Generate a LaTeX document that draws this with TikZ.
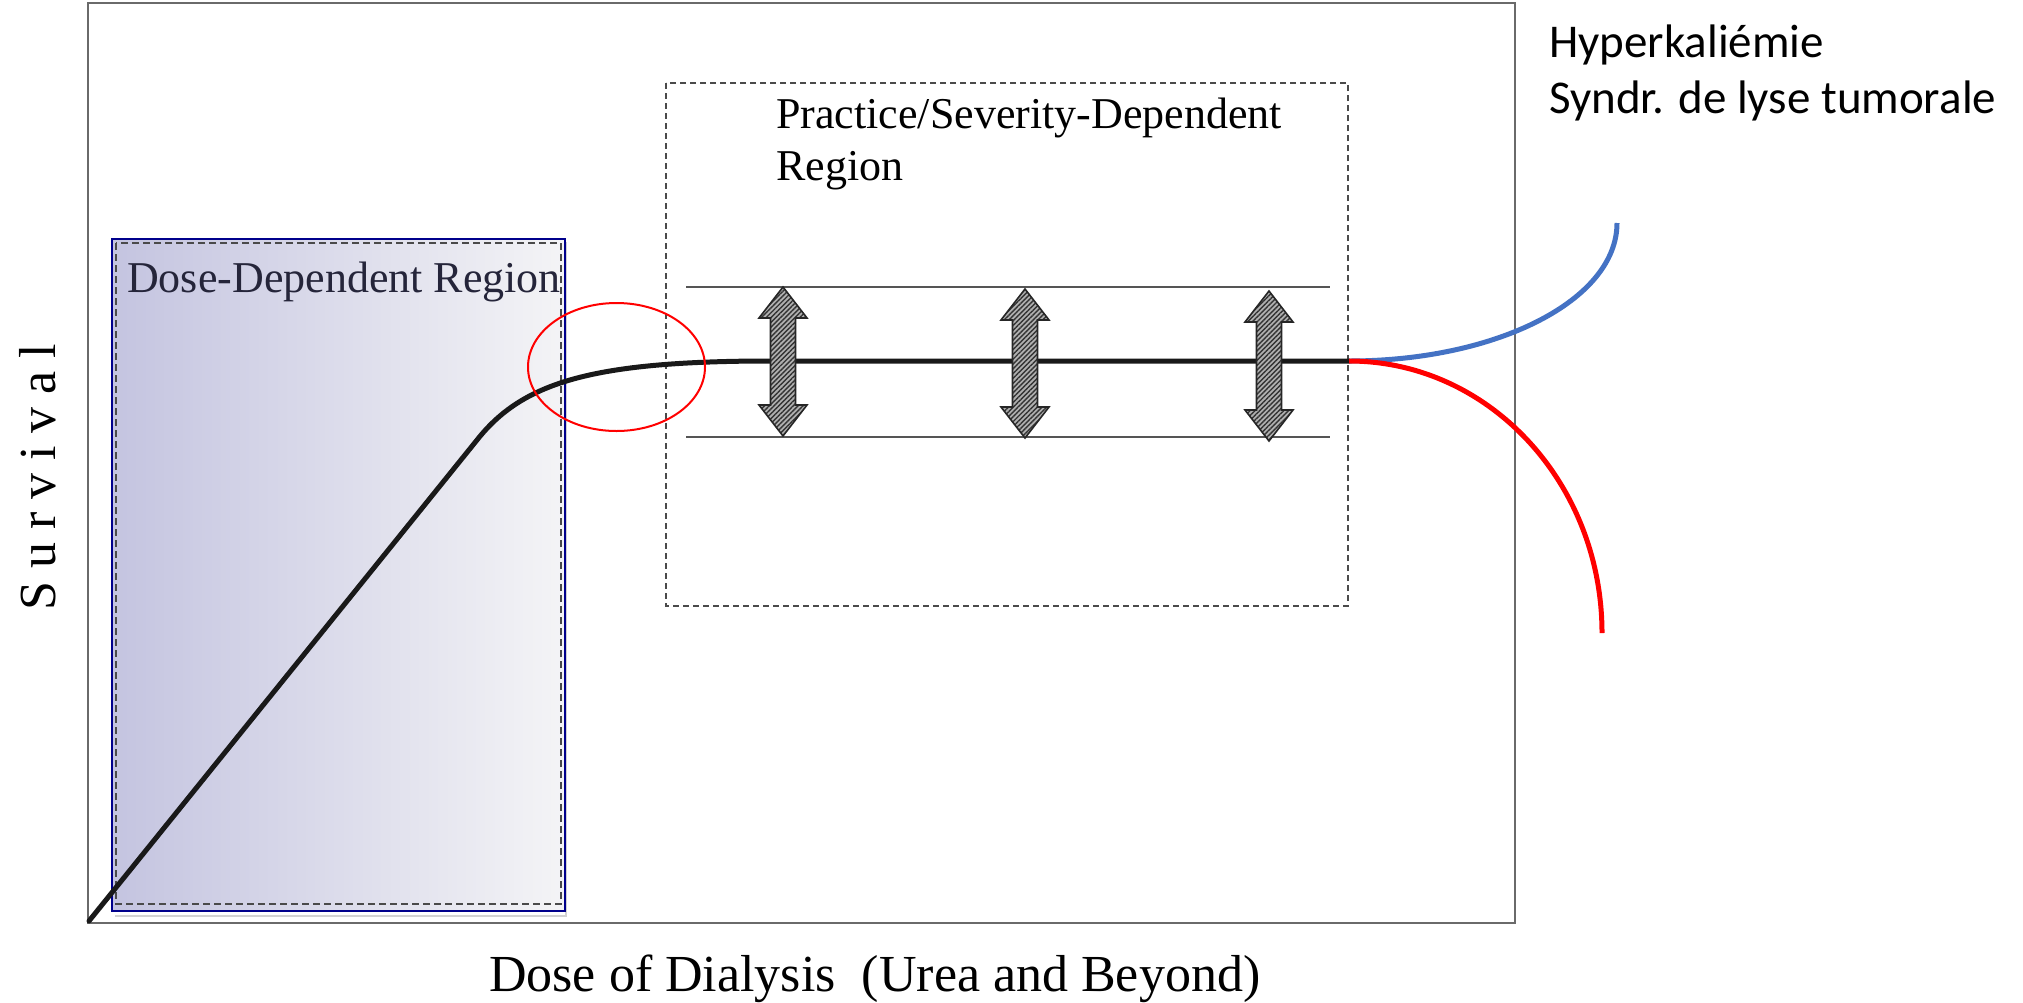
\documentclass[tikz,border=0pt]{standalone}
\usepackage{fontspec}
\setmainfont{Liberation Serif}
\newfontfamily\calibrifont{Carlito}
\usetikzlibrary{patterns.meta}
\definecolor{framegray}{HTML}{6A6A6A}
\definecolor{dashgray}{HTML}{4A4A4A}
\definecolor{navybox}{HTML}{00008C}
\definecolor{shadeleft}{RGB}{196,196,224}
\definecolor{shaderight}{RGB}{244,244,246}
\definecolor{curveblue}{HTML}{4472C4}
\definecolor{curvered}{HTML}{FF0000}
\definecolor{textnavy}{HTML}{25253A}
\tikzset{
  framebox/.style={draw=framegray, line width=2.6pt},
  dashbox/.style={draw=dashgray, line width=2.2pt, dash pattern=on 7pt off 4pt},
  limitline/.style={draw=framegray!80!black, line width=2.4pt},
  survcurve/.style={draw=black!90, line width=5pt, line cap=round, line join=round},
  branch/.style={line width=5pt},
  dblarrowstyle/.style={draw=black!85, line width=1.6pt,
     preaction={fill=gray!62},
     pattern={Lines[angle=45,distance=3.4pt,line width=1.4pt]}, pattern color=black!80},
  labelserif/.style={inner sep=0pt, font=\fontsize{44}{52}\selectfont},
  axisserif/.style={inner sep=0pt, font=\fontsize{52}{60}\selectfont},
  frenchlabel/.style={inner sep=0pt, font=\calibrifont\fontsize{47}{56}\selectfont}
}
\newcommand\mydblarrow[3]{% center x, top y, bottom y
  \path[dblarrowstyle] (#1,#2) -- (#1+24,#2+31) -- (#1+12.5,#2+31) -- (#1+12.5,#3-31)
    -- (#1+24,#3-31) -- (#1,#3) -- (#1-24,#3-31) -- (#1-12.5,#3-31)
    -- (#1-12.5,#2+31) -- (#1-24,#2+31) -- cycle;}
\begin{document}
\begin{tikzpicture}[x=1pt,y=-1pt]
\useasboundingbox[fill=white] (0,0) rectangle (2023,1002);

% dose-dependent region box
\shade[left color=shadeleft, right color=shaderight] (112,239) rectangle (565,911);
\draw[draw=gray!35, line width=1.5pt] (115,916) -- (566,916) -- (566,242);
\draw[navybox, line width=2.2pt] (112,239) rectangle (565,911);
\draw[dashbox] (116,243) rectangle (561,904);

% main frame
\draw[framebox] (88,3) rectangle (1515,923);

% practice/severity box
\draw[dashbox, line width=2pt, dash pattern=on 6pt off 4pt] (666,83) rectangle (1348,606);

% limit lines
\draw[limitline] (686,287) -- (1330,287);
\draw[limitline] (686,437) -- (1330,437);

% survival curve
\coordinate (origin) at (89,921);
\coordinate (knee) at (477,440);
\coordinate (split) at (1349,361);
\draw[survcurve] (origin) -- (knee) .. controls (522,383) and (590,362) .. (760,361) -- (split);

% branches
\coordinate (blueend) at (1617,223);
\coordinate (redend) at (1602,633);
\draw[branch, curveblue] (split) .. controls (1497,361) and (1617,300) .. (blueend);
\draw[branch, curvered] (split) .. controls (1489,361) and (1602,483) .. (redend);

% red ellipse
\draw[curvered, line width=2pt] (616.5,367) ellipse [x radius=88.5, y radius=64];

% double arrows
\mydblarrow{783}{287}{436}
\mydblarrow{1025}{289}{438}
\mydblarrow{1269}{291}{441}

% texts
\node[labelserif, text=textnavy, anchor=base west] (doselabel) at (127,292) {Dose-Dependent Region};
\node[labelserif, anchor=base west] (practicelabel1) at (776,128) {Practice/Severity-Dependent};
\node[labelserif, anchor=base west] (practicelabel2) at (776,180) {Region};
\node[axisserif, anchor=base west] (xlabel) at (489,991) {Dose of Dialysis \ (Urea and Beyond)};
\node[axisserif, anchor=base west, rotate=90] (ylabel) at (55,611) {S u r v i v a l};
\node[frenchlabel, anchor=base west] (hyper) at (1549,57) {Hyperkaliémie};
\node[frenchlabel, anchor=base west] (lyse) at (1549,113) {Syndr. de lyse tumorale};
\end{tikzpicture}
\end{document}
